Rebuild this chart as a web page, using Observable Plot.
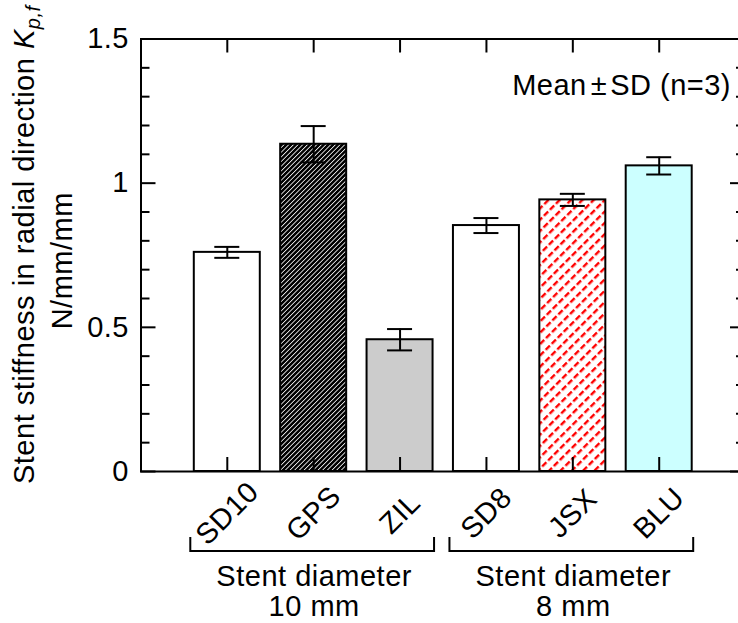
<!DOCTYPE html>
<html><head><meta charset="utf-8">
<script src="https://cdn.jsdelivr.net/npm/d3@7"></script>
<script src="https://cdn.jsdelivr.net/npm/@observablehq/plot@0.6"></script>
<style>
html,body{margin:0;padding:0;background:#fff;overflow:hidden;width:738px;height:623px}
#chart{width:746px}
#chart svg{display:block;max-width:none !important}
#chart svg text{letter-spacing:0.5px}
</style></head><body><div id="chart"></div>
<script>
// ---- data ----
const categories = ["SD10", "GPS", "ZIL", "SD8", "JSX", "BLU"];
const means = [0.760, 1.135, 0.457, 0.853, 0.942, 1.060];
const sds = [0.019, 0.063, 0.037, 0.026, 0.021, 0.030];
const yMajorTicks = [0, 0.5, 1, 1.5];
const yTickLabels = ["0", "0.5", "1", "1.5"];
const yMinorTicks = [0.1, 0.2, 0.3, 0.4, 0.6, 0.7, 0.8, 0.9, 1.1, 1.2, 1.3, 1.4];
const groupLine1 = ["Stent diameter", "Stent diameter"];
const groupLine2 = ["10 mm", "8 mm"];
const groupMembers = [["SD10", "GPS", "ZIL"], ["SD8", "JSX", "BLU"]];
const yLabelMain = "Stent stiffness in radial direction ";
const yLabelSymbol = "K";
const yLabelSub = "p,f";
const yLabelUnit = "N/mm/mm";
const notePre = "Mean";
const notePm = "±";
const notePost = "SD (n=3)";

// ---- styles ----
const fillOf = {SD10: "#ffffff", GPS: "url(#hatch-black)", ZIL: "#cccccc", SD8: "#ffffff", JSX: "url(#hatch-red)", BLU: "#ccffff"};
const FONT = "'Liberation Sans', Arial, Helvetica, sans-serif";
const FS = 29;

const data = categories.map((c, i) => ({cat: c, mean: means[i], lo: means[i] - sds[i], hi: means[i] + sds[i]}));

const W = 746, H = 623, mL = 140.5, mR = 1, mT = 38.5, mB = 152;
const fw = W - mL - mR, fh = H - mT - mB;

const plot = Plot.plot({
  width: W, height: H,
  marginLeft: mL, marginRight: mR, marginTop: mT, marginBottom: mB,
  style: {fontFamily: FONT, fontSize: FS + "px", color: "#000", background: "#fff", overflow: "visible", maxWidth: "none"},
  x: {type: "band", domain: categories, paddingInner: 0.236, paddingOuter: 0.617, align: 0.5, round: false, axis: null},
  y: {domain: [0, 1.5], axis: null},
  color: {type: "identity"},
  marks: [
    Plot.barY(data, {x: "cat", y: "mean", fill: d => fillOf[d.cat], stroke: "#000", strokeWidth: 2}),
    Plot.ruleX(data, {x: "cat", y1: "lo", y2: "hi", stroke: "#000", strokeWidth: 2}),
    Plot.tickY(data, {x: "cat", y: "lo", insetLeft: 20.5, insetRight: 20.5, stroke: "#000", strokeWidth: 2}),
    Plot.tickY(data, {x: "cat", y: "hi", insetLeft: 20.5, insetRight: 20.5, stroke: "#000", strokeWidth: 2}),
    // left axis ticks (inward)
    Plot.tickY(yMajorTicks, {y: d => d, insetRight: fw - 15, stroke: "#000", strokeWidth: 2}),
    Plot.tickY(yMinorTicks, {y: d => d, insetRight: fw - 9, stroke: "#000", strokeWidth: 2}),
    // right axis ticks (inward)
    Plot.tickY(yMajorTicks, {y: d => d, insetLeft: fw - 15, stroke: "#000", strokeWidth: 2}),
    Plot.tickY(yMinorTicks, {y: d => d, insetLeft: fw - 9, stroke: "#000", strokeWidth: 2}),
    // top and bottom ticks at categories
    Plot.tickX(categories, {x: d => d, insetBottom: fh - 14, stroke: "#000", strokeWidth: 2}),
    Plot.tickX(categories, {x: d => d, insetTop: fh - 14, stroke: "#000", strokeWidth: 2}),
    Plot.frame({stroke: "#000", strokeWidth: 2}),
    // y tick labels
    Plot.text(yMajorTicks, {y: d => d, text: (d, i) => yTickLabels[i], frameAnchor: "left", dx: -12, textAnchor: "end", lineAnchor: "middle", fontSize: FS, fill: "#000"}),
    // category labels
    Plot.text(categories, {x: d => d, text: d => d, frameAnchor: "bottom", dy: 42, rotate: -45, textAnchor: "middle", lineAnchor: "middle", fontSize: FS, fill: "#000"})
  ]
});

document.getElementById("chart").appendChild(plot);

// ---- patterns ----
const svg = d3.select(plot);
const defs = svg.insert("defs", ":first-child");
const pb = defs.append("pattern").attr("id", "hatch-black").attr("patternUnits", "userSpaceOnUse")
  .attr("width", 3.3).attr("height", 10).attr("patternTransform", "rotate(45)");
pb.append("rect").attr("width", 3.3).attr("height", 10).attr("fill", "#ffffff");
pb.append("rect").attr("width", 2.5).attr("height", 10).attr("fill", "#000000");
const pr = defs.append("pattern").attr("id", "hatch-red").attr("patternUnits", "userSpaceOnUse")
  .attr("width", 8).attr("height", 8.5).attr("patternTransform", "rotate(45)");
pr.append("rect").attr("width", 8).attr("height", 8.5).attr("fill", "#ffffff");
pr.append("rect").attr("width", 2.4).attr("height", 6).attr("fill", "#ff0000");

// ---- brackets & group labels from x scale ----
const xs = plot.scale("x");
const bw = xs.bandwidth;
const yBrTop = 537, yBr = 551;
const ann = svg.append("g").attr("font-family", FONT).attr("font-size", FS).attr("fill", "#000");
groupMembers.forEach((members, gi) => {
  const x0 = xs.apply(members[0]) - 3.5;
  const x1 = xs.apply(members[members.length - 1]) + bw + 1.5;
  ann.append("path").attr("d", `M${x0},${yBrTop}V${yBr}H${x1}V${yBrTop}`)
    .attr("fill", "none").attr("stroke", "#000").attr("stroke-width", 2);
  const cx = (x0 + x1) / 2 + 2;
  ann.append("text").attr("x", cx).attr("y", 586).attr("text-anchor", "middle").text(groupLine1[gi]);
  ann.append("text").attr("x", cx).attr("y", 616).attr("text-anchor", "middle").text(groupLine2[gi]);
});

// ---- y label ----
const yc = (mT + H - mB) / 2 - 10;
const l1 = ann.append("text").attr("transform", `translate(33.5,${yc}) rotate(-90)`).attr("text-anchor", "middle");
l1.append("tspan").text(yLabelMain);
l1.append("tspan").attr("font-style", "italic").text(yLabelSymbol);
l1.append("tspan").attr("font-style", "italic").attr("font-size", 20).attr("dy", 6).text(yLabelSub);
ann.append("text").attr("transform", `translate(72,${yc + 16}) rotate(-90)`).attr("text-anchor", "middle").text(yLabelUnit);

// ---- note ----
const note = ann.append("text").attr("x", 731).attr("y", 95).attr("text-anchor", "end");
note.append("tspan").text(notePre);
note.append("tspan").attr("dx", 4).text(notePm);
note.append("tspan").attr("dx", 3).text(notePost);
</script>
</body></html>
